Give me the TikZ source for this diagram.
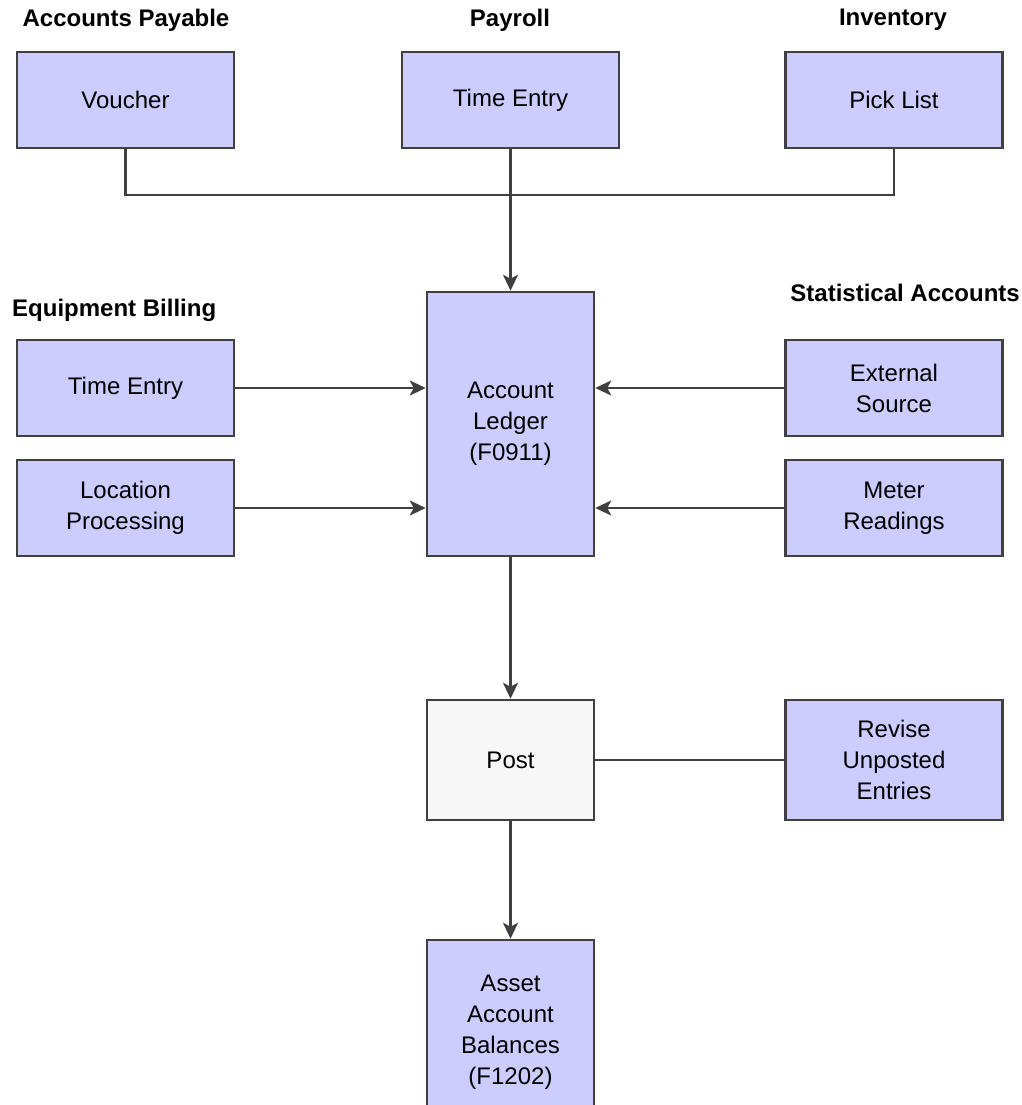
\documentclass[tikz,border=0pt]{standalone}
\usepackage{fontspec}
\setmainfont{Liberation Sans}
\usetikzlibrary{positioning,arrows.meta}

\begin{document}
\begin{tikzpicture}[x=1pt,y=-1pt,
		box/.style={draw=black!75,line width=2.5pt,fill=blue!20,align=center,inner sep=0pt,
			font=\fontsize{24}{31}\selectfont},
		wide/.style={box,minimum width=217pt,minimum height=96pt},
		tall/.style={box,minimum width=167pt},
		head/.style={font=\bfseries\fontsize{24}{29}\selectfont,inner sep=0pt},
		link/.style={draw=black!75,line width=2.4pt},
		arr/.style={link,-{Stealth[length=16pt,width=15pt,inset=4pt]}}]
		\useasboundingbox (0,0) rectangle (1022,1105);
		% sources at the top
		\node[head] (aphead) at (126,20) {Accounts Payable};
		\node[head] (prhead) at (510,20) {Payroll};
		\node[head] (invhead) at (893,20) {Inventory};
		\node[wide] (voucher) at (125.5,100) {Voucher};
		\node[wide] (prtime) at (510.5,100) {\strut Time Entry};
		\node[wide] (picklist) at (894,100) {Pick List};
		% ledger and the side feeds
		\node[tall,minimum height=264pt] (ledger) at (510.5,424) {Account\\Ledger\\(F0911)};
		\node[head,anchor=west] (ebhead) at (12,310) {Equipment Billing};
		\node[head,anchor=east] (sahead) at (1020,293) {Statistical Accounts};
		\node[wide] (ebtime) at (125.5,388) {\strut Time Entry};
		\node[wide] (locproc) at (125.5,508) {Location\\Processing};
		\node[wide] (extsrc) at (894,388) {External\\Source};
		\node[wide] (meter) at (894,508) {Meter\\Readings};
		% posting
		\node[tall,minimum height=120pt,fill=black!3] (post) at (510.5,760) {Post};
		\node[wide,minimum height=120pt] (revise) at (894,760) {Revise\\Unposted\\Entries};
		\node[tall,minimum height=184pt] (asset) at (510.5,1032) {Asset\\Account\\Balances\\(F1202)};
		\coordinate (bus) at (510.5,195);
		\draw[link] (voucher.south) |- (bus) -| (picklist.south);
		\draw[arr] (prtime.south) -- (ledger.north);
		\draw[arr] (ebtime.east) -- (ebtime.east -| ledger.west);
		\draw[arr] (locproc.east) -- (locproc.east -| ledger.west);
		\draw[arr] (extsrc.west) -- (extsrc.west -| ledger.east);
		\draw[arr] (meter.west) -- (meter.west -| ledger.east);
		\draw[arr] (ledger.south) -- (post.north);
		\draw[link] (post.east) -- (revise.west);
		\draw[arr] (post.south) -- (asset.north);
	\end{tikzpicture}
\end{document}
